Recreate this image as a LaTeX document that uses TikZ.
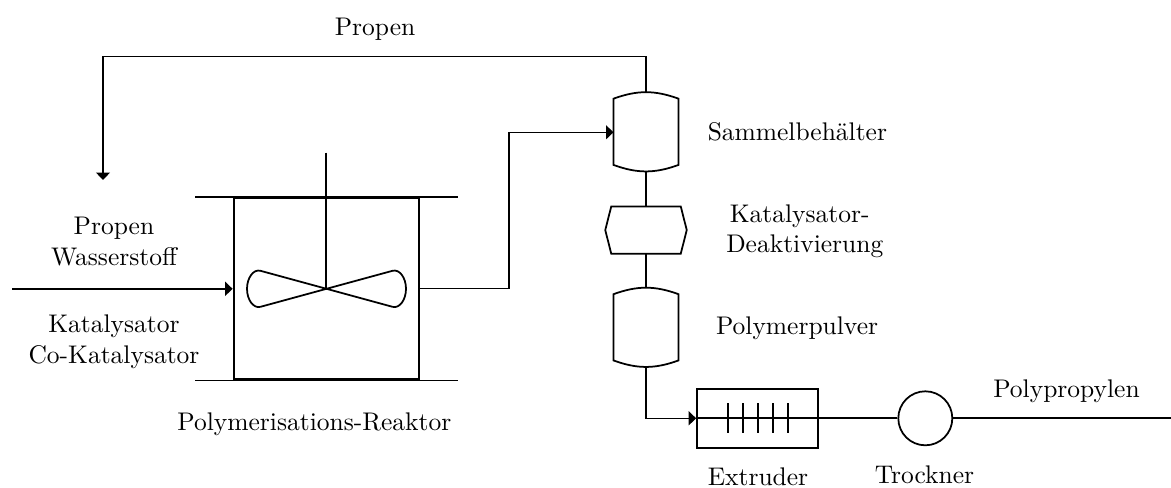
\documentclass[tikz,border=0pt]{standalone}
\usepackage{tikz}
\usetikzlibrary{arrows.meta,positioning}
\tikzset{
  apparatus/.style={
    draw,
    line width=0.9pt,
    inner sep=0pt
  },
  vesselbox/.style={
    minimum width=25.6pt,
    minimum height=31.3pt,
    inner sep=0pt
  },
  hexbox/.style={
    minimum width=32.2pt,
    minimum height=18.5pt,
    inner sep=0pt
  },
  caption/.style={
    align=center,
    inner sep=0pt,
    font=\fontsize{10.2pt}{12.2pt}\selectfont
  },
  outline/.style={
    line width=0.7pt
  },
  connector/.style={
    line width=0.45pt
  },
  arrow/.style={
    -{Triangle[length=3pt,width=5.6pt]},
    connector
  },
  feedarrow/.style={
    -{Triangle[length=3pt,width=5.6pt]},
    outline
  }
}

\begin{document}
\begin{tikzpicture}[x=0.4pt,y=-0.4pt,node distance=13.8pt and 11.5pt]
\useasboundingbox (0,0) rectangle (1171,487);
% reactor
\node[apparatus, minimum width=74.2pt, minimum height=72.4pt] (reactor) at (326.5,288.8) {};
\draw[outline] ([xshift=-15pt]reactor.north west) -- ([xshift=15pt]reactor.north east);
\draw[outline] ([xshift=-15pt]reactor.south west) -- ([xshift=15pt]reactor.south east);
\coordinate (shafttop) at (326.2,152.7);
\draw[outline] (shafttop) -- (shafttop |- reactor.center);
\draw[outline, shift={(reactor.center)}] (0,0) -- (-66,-18) .. controls (-73,-20) and (-79.5,-11) .. (-79.5,0)
  .. controls (-79.5,11) and (-73,20) .. (-66,18) -- (66,-18) .. controls (73,-20) and (79.5,-11) .. (79.5,0)
  .. controls (79.5,11) and (73,20) .. (66,18) -- cycle;
% column
\node[vesselbox] (collect) at (646,132.3) {};
\node[hexbox, below=of collect] (deact) {};
\node[vesselbox, below=of deact] (powder) {};
\foreach \v in {collect,powder}
  \draw[outline] ([yshift=-2.4pt]\v.north west) to[bend left=20] ([yshift=-2.4pt]\v.north east)
    -- ([yshift=2.8pt]\v.south east) to[bend left=20] ([yshift=2.8pt]\v.south west) -- cycle;
\draw[outline] (deact.west) -- ([xshift=2.4pt]deact.north west) -- ([xshift=-2.4pt]deact.north east)
  -- (deact.east) -- ([xshift=-2.4pt]deact.south east) -- ([xshift=2.4pt]deact.south west) -- cycle;
% extruder and dryer
\node[apparatus, minimum width=48.4pt, minimum height=23.5pt] (extruder) at (757.8,418.3) {};
\node[draw, outline, circle, minimum size=21.6pt, inner sep=0pt, right=31.2pt of extruder] (dryer) {};
\coordinate (productend) at (1171,418.3);
\foreach \i in {-30,-15,0,15,30}
  \draw[outline, shift={(extruder.center)}] (\i,-15) -- (\i,15);
% connectors
\coordinate (feedstart) at (12,288.8);
\coordinate (recycleend) at (103,180);
\draw[feedarrow] (feedstart) -- (reactor.west);
\draw[arrow] (reactor.east) -- (509,288.8) |- (collect.west);
\draw[arrow] (collect.north) |- (recycleend |- 0,56.4) -- (recycleend);
\draw[connector] (collect.south) -- (deact.north);
\draw[connector] (deact.south) -- (powder.north);
\draw[arrow] (powder.south) |- (extruder.west);
\draw[outline] (extruder.west) -- (dryer.west);
\draw[outline] (dryer.east) -- (productend);
% labels
\node[caption] (recyclelabel) at (375,29) {Propen};
\node[caption] (feedtop) at (114,241.5) {Propen\\Wasserstoff};
\node[caption] (feedbottom) at (114,342) {Katalysator\\Co-Katalysator};
\node[caption] (reactorlabel) at (314.4,424) {Polymerisations-Reaktor};
\node[caption, right=of collect, yshift=0.4pt] (collectlabel) {Sammelbehälter};
\node[caption, right=15.6pt of deact, yshift=-0.4pt] (deactlabel) {Katalysator-\hspace*{4pt}\\Deaktivierung};
\node[caption, right=14.8pt of powder] (powderlabel) {Polymerpulver};
\node[caption] (extruderlabel) at (758,477) {Extruder};
\node[caption] (dryerlabel) at (924.5,474.5) {Trockner};
\node[caption] (productlabel) at (1066.5,391) {Polypropylen};
\end{tikzpicture}
\end{document}
